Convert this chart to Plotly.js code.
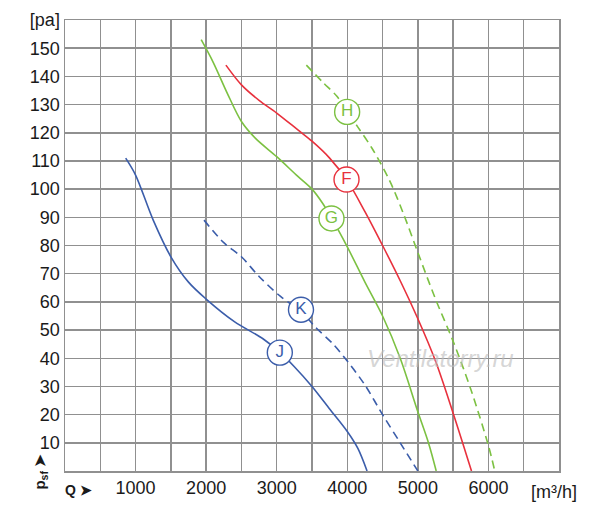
<!DOCTYPE html>
<html>
<head>
<meta charset="utf-8">
<script src="https://cdn.plot.ly/plotly-3.0.1.min.js"></script>
<style>
  html, body { margin: 0; padding: 0; background: #fff; }
  #chart { width: 600px; height: 517px; }
</style>
</head>
<body>
<div id="chart"></div>
<script>
// fan curves, Q [m3/h] vs psf [pa]
var jQ = [860, 1000, 1250, 1500, 1750, 2000, 2400, 2800, 3050, 3250, 3500, 3750, 4000, 4150, 4280];
var jP = [111, 105, 89, 76, 67, 61, 53, 47, 42, 37, 30, 22, 14, 8, 0];

var kQ = [1970, 2250, 2500, 2750, 3050, 3350, 3550, 3800, 4000, 4250, 4500, 4750, 5000];
var kP = [89, 81, 76, 69, 62, 56.5, 51, 45, 39, 30.5, 20, 10, 0];

var gQ = [1930, 2100, 2300, 2500, 2700, 3000, 3300, 3500, 3650, 3780, 4000, 4250, 4500, 4750, 5000, 5150, 5260];
var gP = [153, 145, 134, 124, 118, 111.5, 104.5, 100, 95, 89.6, 79.5, 67, 55, 40, 21, 10, 0];

var fQ = [2280, 2500, 2750, 3000, 3300, 3500, 3750, 4000, 4250, 4500, 4750, 5000, 5250, 5500, 5760];
var fP = [144, 137, 131.5, 127, 121, 117, 111, 103, 92, 80, 67.5, 54, 39, 20.5, 0];

var hQ = [3420, 3650, 3850, 4000, 4150, 4350, 4600, 4800, 5000, 5250, 5500, 5750, 6000, 6090];
var hP = [144, 138, 133, 127.5, 122, 114.5, 103, 91, 77.5, 61, 46, 29, 9, 0];

var tagNames = ["H", "F", "G", "K", "J"];
var tagQ = [3998, 3989, 3776, 3344, 3044];
var tagP = [127.4, 103.4, 89.6, 57.2, 42];

var xTickVals = [0, 500, 1000, 1500, 2000, 2500, 3000, 3500, 4000, 4500, 5000, 5500, 6000, 6500, 7000];
var xTickText = ["", "", "1000", "", "2000", "", "3000", "", "4000", "", "5000", "", "6000", "", ""];
var yTickVals = [0, 10, 20, 30, 40, 50, 60, 70, 80, 90, 100, 110, 120, 130, 140, 150, 160];
var yTickText = ["", "10", "20", "30", "40", "50", "60", "70", "80", "90", "100", "110", "120", "130", "140", "150", "[pa]"];

var blue = "#3b5daa", red = "#e8313d", green = "#7cc142";

function curve(x, y, color, dash) {
  return {
    x: x, y: y, type: "scatter", mode: "lines",
    line: {color: color, width: 1.6, shape: "spline", smoothing: 0.9, dash: dash || "solid"},
    hoverinfo: "skip", showlegend: false
  };
}

var tagColors = [green, red, green, blue, blue];

var data = [
  curve(jQ, jP, blue),
  curve(kQ, kP, blue, "8px,5px"),
  curve(gQ, gP, green),
  curve(fQ, fP, red),
  curve(hQ, hP, green, "8px,5px"),
  {
    x: tagQ, y: tagP, text: tagNames, type: "scatter", mode: "markers+text",
    textposition: "middle center",
    textfont: {family: "Liberation Sans, Arial, sans-serif", size: 17, color: tagColors},
    marker: {size: 25, color: "#ffffff", line: {color: tagColors, width: 1.4}},
    hoverinfo: "skip", showlegend: false, cliponaxis: false
  }
];

var tickFont = {family: "Liberation Sans, Arial, sans-serif", size: 18, color: "#1a1a1a"};

var layout = {
  width: 600, height: 517,
  margin: {l: 65, r: 41, t: 20, b: 46},
  paper_bgcolor: "#fff", plot_bgcolor: "#fff",
  font: tickFont,
  xaxis: {
    range: [0, 7000], tickmode: "array", tickvals: xTickVals, ticktext: xTickText,
    showgrid: true, gridcolor: "#909090", gridwidth: 1.5,
    showline: true, linecolor: "#909090", linewidth: 1.5, mirror: true,
    zeroline: false, ticks: "", tickfont: tickFont, fixedrange: true
  },
  yaxis: {
    range: [0, 160], tickmode: "array", tickvals: yTickVals, ticktext: yTickText,
    showgrid: true, gridcolor: "#909090", gridwidth: 1.5,
    showline: true, linecolor: "#909090", linewidth: 1.5, mirror: true,
    zeroline: false, ticks: "", tickfont: tickFont, fixedrange: true
  },
  annotations: [
    {xref: "paper", yref: "paper", x: 0.99, y: -0.02, xanchor: "center", yanchor: "top",
     text: "[m³/h]", showarrow: false, font: tickFont},
    {xref: "paper", yref: "paper", x: -0.005, y: -0.02, xanchor: "left", yanchor: "top",
     text: "<b>Q ➤</b>", showarrow: false, font: {family: "Liberation Sans, Arial, sans-serif", size: 14, color: "#1a1a1a"}},
    {xref: "paper", yref: "paper", x: -0.05, y: -0.045, xanchor: "center", yanchor: "bottom",
     text: "<b>p<sub>sf</sub> ➤</b>", textangle: -90, showarrow: false,
     font: {family: "Liberation Sans, Arial, sans-serif", size: 15, color: "#1a1a1a"}},
    {xref: "paper", yref: "paper", x: 0.76, y: 0.25, xanchor: "center", yanchor: "middle",
     text: "<i>Ventilatorry.ru</i>", showarrow: false,
     font: {family: "Liberation Sans, Arial, sans-serif", size: 24, color: "rgba(190,190,190,0.65)"}}
  ]
};

Plotly.newPlot("chart", data, layout, {displayModeBar: false, staticPlot: true});
</script>
</body>
</html>
